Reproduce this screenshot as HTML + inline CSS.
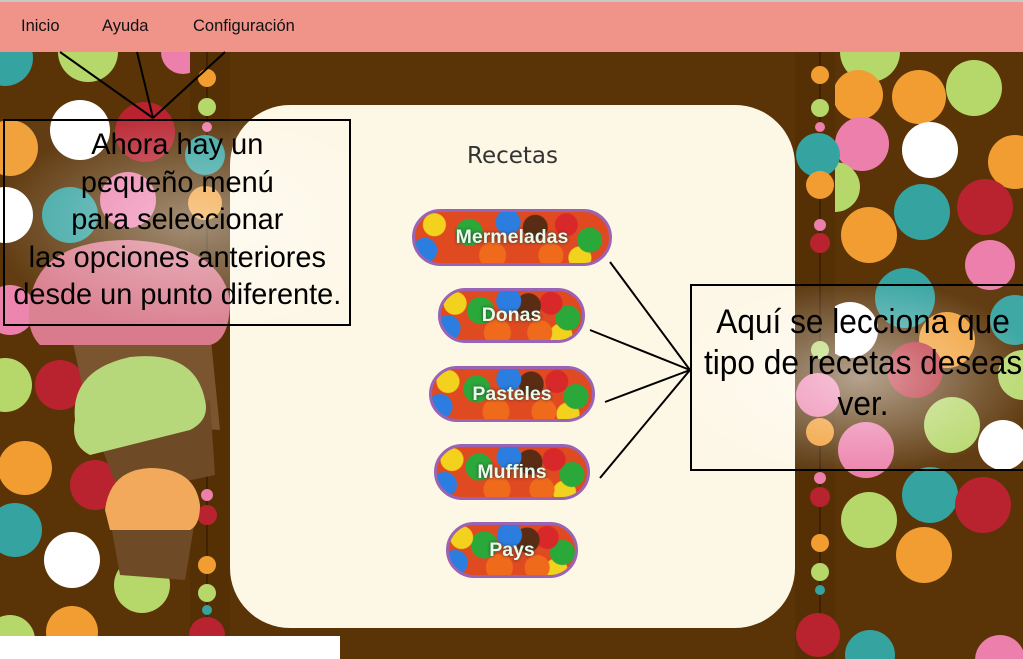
<!DOCTYPE html>
<html><head><meta charset="utf-8"><style>
body{margin:0;width:1023px;height:659px;overflow:hidden;background:#5a3306;position:relative;font-family:"Liberation Sans",Arial,sans-serif}
.a{position:absolute}
.menu{left:0;top:0;width:1023px;height:52px;background:#f0948a;border-top:2px solid #c8c8c8;box-sizing:border-box}
.mi{position:absolute;top:15px;font-size:16.5px;color:#111}
.card{left:230px;top:105px;width:565px;height:523px;background:#fdf7e6;border-radius:60px}
.btn{position:absolute;border:3px solid #9a63b4;border-radius:40px;overflow:hidden;box-sizing:border-box;color:#e8fbe8;font-weight:bold;font-size:19.5px;text-align:center;text-shadow:0 0 3px #333;
background:
radial-gradient(circle at 10% 25%,#f2d21c 0 11px,transparent 12px),
radial-gradient(circle at 28% 40%,#2aa83a 0 13px,transparent 14px),
radial-gradient(circle at 48% 20%,#2c7de0 0 12px,transparent 13px),
radial-gradient(circle at 62% 30%,#5a2c14 0 12px,transparent 13px),
radial-gradient(circle at 78% 25%,#d9282a 0 11px,transparent 12px),
radial-gradient(circle at 90% 55%,#2aa83a 0 12px,transparent 13px),
radial-gradient(circle at 5% 75%,#2c7de0 0 12px,transparent 13px),
radial-gradient(circle at 40% 85%,#f06a1c 0 13px,transparent 14px),
radial-gradient(circle at 70% 85%,#f06a1c 0 12px,transparent 13px),
radial-gradient(circle at 85% 90%,#f2d21c 0 11px,transparent 12px),
#e04a20}
.tb{position:absolute;border:2px solid #000;box-sizing:border-box;text-align:center;color:#000}
</style></head><body>
<svg class="a" style="left:0;top:0" width="1023" height="659">
<g id="dots"></g>
<rect x="190" y="52" width="40" height="584" fill="#553005"/>
<rect x="795" y="52" width="40" height="607" fill="#553005"/>
<line x1="207" y1="52" x2="207" y2="640" stroke="#2a1500"/>
<line x1="820" y1="52" x2="820" y2="640" stroke="#2a1500"/>
<g id="beads"></g>
<g>
<path d="M70 330 L210 330 L220 430 L90 420 Z" fill="#7a5530"/>
<path d="M30 300 Q40 240 130 240 Q220 245 230 300 Q230 340 210 345 L40 345 Q25 330 30 300Z" fill="#d97b8c"/>
<path d="M95 430 L210 400 L215 475 L120 495 Z" fill="#6e4a26"/>
<path d="M75 420 Q70 370 130 357 Q195 350 205 400 Q210 420 190 430 L90 455 Q70 445 75 420Z" fill="#b6d77a"/>
<path d="M110 520 L195 520 L185 580 L120 575 Z" fill="#6e4a26"/>
<path d="M105 510 Q110 470 150 468 Q195 468 200 505 Q200 525 190 530 L110 530 Z" fill="#f3a95c"/>
</g>
<rect x="0" y="636" width="340" height="23" fill="#fff"/>
</svg>
<div class="a menu">
<span class="mi" style="left:21px">Inicio</span>
<span class="mi" style="left:102px">Ayuda</span>
<span class="mi" style="left:193px">Configuración</span>
</div>
<div class="a card">
<div class="a" style="left:0;width:565px;top:38px;text-align:center;font-family:'Comic Sans MS','DejaVu Sans',sans-serif;font-size:23px;color:#333">Recetas</div>
<div class="btn" style="left:182px;top:104px;width:200px;height:57px;line-height:51px">Mermeladas</div>
<div class="btn" style="left:208px;top:183px;width:147px;height:55px;line-height:49px">Donas</div>
<div class="btn" style="left:199px;top:261px;width:166px;height:56px;line-height:50px">Pasteles</div>
<div class="btn" style="left:204px;top:339px;width:156px;height:56px;line-height:50px">Muffins</div>
<div class="btn" style="left:216px;top:417px;width:132px;height:56px;line-height:50px">Pays</div>
</div>
<div class="tb" style="left:3px;top:119px;width:348px;height:207px;font-size:29.5px;line-height:37.5px;padding-top:5px;white-space:nowrap;background:radial-gradient(ellipse at 55% 50%,rgba(255,255,255,0.45),rgba(255,255,255,0.05) 75%)"><span style="display:inline-block;transform:scaleX(0.98)">Ahora hay un<br>pequeño menú<br>para seleccionar<br>las opciones anteriores<br>desde un punto diferente.</span></div>
<div class="tb" style="left:690px;top:284px;width:340px;height:187px;font-size:34px;line-height:41px;padding-top:16px;white-space:nowrap;background:radial-gradient(ellipse at 50% 50%,rgba(255,255,255,0.55),rgba(255,255,255,0.05) 75%)"><span style="display:inline-block;transform:scaleX(0.93)">Aquí se lecciona que<br>tipo de recetas deseas<br>ver.</span></div>
<svg class="a" style="left:0;top:0" width="1023" height="659">
<g stroke="#000" stroke-width="2">
<line x1="60" y1="52" x2="153" y2="118"/><line x1="137" y1="52" x2="153" y2="118"/><line x1="225" y1="52" x2="153" y2="118"/>
<line x1="610" y1="262" x2="690" y2="370"/><line x1="590" y1="330" x2="690" y2="370"/><line x1="605" y1="402" x2="690" y2="370"/><line x1="600" y1="478" x2="690" y2="370"/>
</g></svg>
<script>
const ns='http://www.w3.org/2000/svg';
const C={t:'#35a3a0',g:'#b6d76a',p:'#ec7fab',w:'#ffffff',r:'#b8232f',o:'#f19d32'};
const dots=[[5,58,28,'t'],[88,52,30,'g'],[183,52,22,'p'],[80,130,30,'w'],[145,132,30,'r'],[10,148,28,'o'],[5,215,28,'w'],[70,215,28,'t'],[128,200,28,'p'],[10,310,25,'p'],[5,385,27,'g'],[60,385,25,'r'],[25,468,27,'o'],[15,530,27,'t'],[95,485,25,'r'],[72,560,28,'w'],[142,585,28,'g'],[72,632,26,'o'],[10,640,25,'g'],
[870,52,30,'g'],[858,95,25,'o'],[919,97,27,'o'],[974,88,28,'g'],[862,144,27,'p'],[930,150,28,'w'],[1015,162,27,'o'],[835,187,25,'g'],[922,212,28,'t'],[985,207,28,'r'],[869,235,28,'o'],[990,265,25,'p'],[905,298,30,'t'],[850,330,28,'w'],[1015,320,25,'t'],[947,340,28,'o'],[915,370,28,'r'],[1023,375,25,'g'],[952,425,28,'g'],[1003,445,25,'w'],[866,450,28,'p'],[930,495,28,'t'],[983,505,28,'r'],[869,520,28,'g'],[924,555,28,'o'],[870,655,25,'t'],[1000,660,25,'p']];
const beads=[[207,78,9,'o'],[207,107,9,'g'],[207,127,5,'p'],[205,155,20,'t'],[205,203,17,'o'],[207,495,6,'p'],[207,515,10,'r'],[207,565,9,'o'],[207,593,9,'g'],[207,610,5,'t'],[207,635,18,'r'],
[820,75,9,'o'],[820,108,9,'g'],[820,127,5,'p'],[818,155,22,'t'],[820,185,14,'o'],[820,225,6,'p'],[820,243,10,'r'],[820,350,9,'g'],[818,395,22,'p'],[820,432,14,'o'],[820,478,6,'p'],[820,497,10,'r'],[820,543,9,'o'],[820,572,9,'g'],[820,590,5,'t'],[818,635,22,'r']];
function draw(list,id,name){const g=document.getElementById(id);list.forEach(d=>{const c=document.createElementNS(ns,'circle');c.setAttribute('cx',d[0]);c.setAttribute('cy',d[1]);c.setAttribute('r',d[2]);c.setAttribute('fill',C[d[3]]);


g.appendChild(c);});}
draw(dots,'dots','polka-dot');draw(beads,'beads','bead');
</script>
</body></html>
